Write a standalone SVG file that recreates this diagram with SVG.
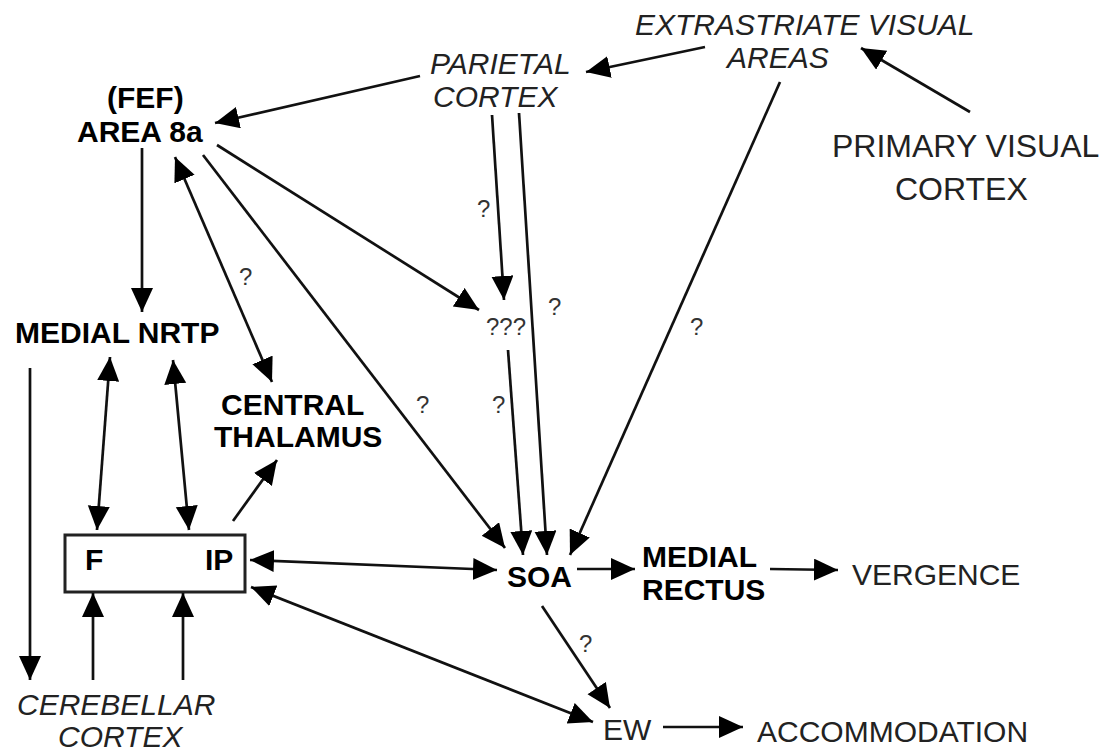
<svg xmlns="http://www.w3.org/2000/svg" width="1109" height="753" viewBox="0 0 1109 753">
<style>
text{font-family:"Liberation Sans",Arial,sans-serif;font-size:30px;fill:#111}
.b{font-weight:bold;fill:#000}
.i{font-style:italic;fill:#222}
.r{fill:#222}
.q{font-size:24px;fill:#333}
.c line{stroke:#111;stroke-width:2.7;marker-end:url(#ah)}
.c line.bi{marker-start:url(#ah)}
</style>
<defs>
<marker id="ah" markerUnits="userSpaceOnUse" markerWidth="26" markerHeight="24" refX="24" refY="11" orient="auto-start-reverse" viewBox="0 0 26 24">
<path d="M0,0 L24,11 L0,22 z" fill="#000"/>
</marker>
</defs>
<rect width="1109" height="753" fill="#fff"/>
<g id="extrastriate"><text class="i" x="635" y="35">EXTRASTRIATE VISUAL</text><text class="i" x="727" y="68">AREAS</text></g>
<g id="parietal"><text class="i" x="430" y="74">PARIETAL</text><text class="i" x="433" y="107">CORTEX</text></g>
<g id="primary"><text class="r" x="832" y="157" style="font-size:32px">PRIMARY VISUAL</text><text class="r" x="895" y="200" style="font-size:32px">CORTEX</text></g>
<g id="fef"><text class="b" x="107" y="108">(FEF)</text><text class="b" x="77" y="142">AREA 8a</text></g>
<g id="nrtp"><text class="b" x="15" y="343">MEDIAL NRTP</text></g>
<g id="thalamus"><text class="b" x="221" y="415">CENTRAL</text><text class="b" x="214" y="447">THALAMUS</text></g>
<g id="qqq"><text class="q" x="486" y="335">???</text></g>
<g id="box"><rect x="65" y="535" width="180" height="57" fill="#fff" stroke="#222" stroke-width="3"/><text class="b" x="85" y="570">F</text><text class="b" x="205" y="570">IP</text></g>
<g id="cerebellar"><text class="i" x="17" y="715">CEREBELLAR</text><text class="i" x="58" y="747">CORTEX</text></g>
<g id="soa"><text class="b" x="507" y="587">SOA</text></g>
<g id="rectus"><text class="b" x="642" y="567">MEDIAL</text><text class="b" x="642" y="600">RECTUS</text></g>
<g id="vergence"><text class="r" x="852" y="585">VERGENCE</text></g>
<g id="ew"><text class="r" x="603" y="740">EW</text></g>
<g id="accommodation"><text class="r" x="757" y="742">ACCOMMODATION</text></g>
<g id="connectors" class="c">
<line x1="705" y1="47" x2="586" y2="72"/>
<line x1="970" y1="112" x2="861" y2="48"/>
<line x1="420" y1="76" x2="215" y2="123"/>
<line x1="142" y1="148" x2="142" y2="312"/>
<line class="bi" x1="175" y1="157" x2="272" y2="382"/>
<line x1="217" y1="145" x2="479" y2="310"/>
<line x1="203" y1="155" x2="505" y2="548"/>
<line x1="492" y1="115" x2="504" y2="300"/>
<line x1="519" y1="113" x2="547" y2="555"/>
<line x1="508" y1="350" x2="523" y2="555"/>
<line x1="780" y1="82" x2="570" y2="555"/>
<line x1="30" y1="368" x2="30" y2="680"/>
<line class="bi" x1="110" y1="357" x2="97" y2="530"/>
<line class="bi" x1="173" y1="360" x2="189" y2="530"/>
<line x1="93" y1="680" x2="93" y2="593"/>
<line x1="183" y1="680" x2="183" y2="593"/>
<line x1="233" y1="521" x2="277" y2="460"/>
<line class="bi" x1="250" y1="560" x2="497" y2="570"/>
<line class="bi" x1="251" y1="587" x2="593" y2="722"/>
<line x1="577" y1="569" x2="635" y2="569"/>
<line x1="770" y1="569" x2="838" y2="570"/>
<line x1="542" y1="606" x2="610" y2="708"/>
<line x1="663" y1="727" x2="743" y2="727"/>
</g>
<g id="qlabels">
<text class="q" x="477" y="217">?</text>
<text class="q" x="239" y="285">?</text>
<text class="q" x="416" y="413">?</text>
<text class="q" x="492" y="413">?</text>
<text class="q" x="548" y="315">?</text>
<text class="q" x="690" y="335">?</text>
<text class="q" x="579" y="652">?</text>
</g>
</svg>
